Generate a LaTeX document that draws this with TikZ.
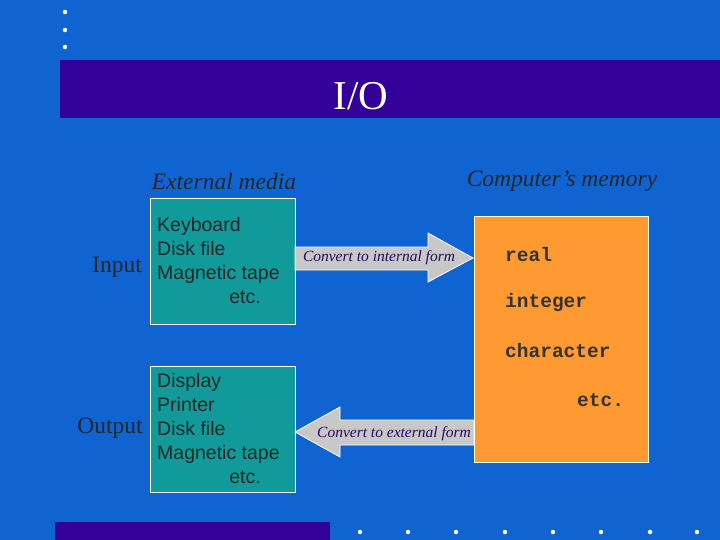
\documentclass[tikz,border=0pt]{standalone}
\usepackage{fontspec}
\newfontfamily\sans{Liberation Sans}
\newfontfamily\mono{Liberation Mono}
\setmainfont{Liberation Serif}
\definecolor{bg}{HTML}{0F64D2}
\definecolor{bar}{HTML}{330099}
\definecolor{tealb}{HTML}{109A9A}
\definecolor{orng}{HTML}{FF9A33}
\definecolor{arr}{HTML}{C8C8C8}
\definecolor{navy}{HTML}{2A0866}
\begin{document}
\begin{tikzpicture}[x=1pt,y=-1pt,
  dot/.style={circle,fill=white,inner sep=0,minimum size=4.5pt},
  box/.style={draw=white,fill=tealb,line width=0.8pt},
  lab/.style={font=\fontsize{23.5}{26}\selectfont\itshape,text=black!85},
  side/.style={font=\fontsize{23.5}{26}\selectfont,text=black!85},
  boxtxt/.style={font=\sans\fontsize{19.5}{24}\selectfont,align=left,anchor=north west,inner sep=0,text=black!85},
  mt/.style={font=\mono\bfseries\fontsize{19.5}{22}\selectfont,text=black!80,anchor=west,inner sep=0},
  arrow/.style={draw=white,fill=arr,line width=0.8pt},
  atxt/.style={font=\fontsize{15.5}{17}\selectfont\itshape,text=navy}]
\fill[bg] (0,0) rectangle (720,540);
\fill[bar] (60,60) rectangle (720,118);
\fill[bar] (55,522) rectangle (330,540);
\node[font=\fontsize{41}{44}\selectfont,text=white] (t) at (361,96) {I/O};
\foreach \y [count=\i] in {12,30,47} \node[dot] (l\i) at (65,\y) {};
\foreach \x [count=\i] in {360,408,456,505,553,601,650,697} \node[dot] (b\i) at (\x,532) {};
\node[lab] (em) at (224,181) {External media};
\node[lab] (cm) at (562,181) {Computer’s memory};
\draw[box] (150,198) rectangle (295,324);
\node[boxtxt] (k) at (157,217) {Keyboard\\Disk file\\Magnetic tape\\\hspace{3.7em}etc.};
\node[side] (in) at (117,267) {Input};
\draw[box] (150,366) rectangle (295,492);
\node[boxtxt] (d) at (157,373) {Display\\Printer\\Disk file\\Magnetic tape\\\hspace{3.7em}etc.};
\node[side] (out) at (110,428) {Output};
\draw[draw=white,fill=orng,line width=0.8pt] (474,216) rectangle (648,462);
\node[mt] (r) at (505,255) {real};
\node[mt] (i) at (505,303) {integer};
\node[mt] (c) at (505,351) {character};
\node[mt] (e) at (577,400) {etc.};
\draw[arrow] (295,247) -- (428,247) -- (428,233) -- (473,258) -- (428,282) -- (428,270) -- (295,270) -- cycle;
\node[atxt] (a1) at (379,258) {Convert to internal form};
\draw[arrow] (474,420) -- (340,420) -- (340,407) -- (295,432) -- (340,457) -- (340,445) -- (474,445) -- cycle;
\node[atxt] (a2) at (394,434) {Convert to external form};
\end{tikzpicture}
\end{document}
